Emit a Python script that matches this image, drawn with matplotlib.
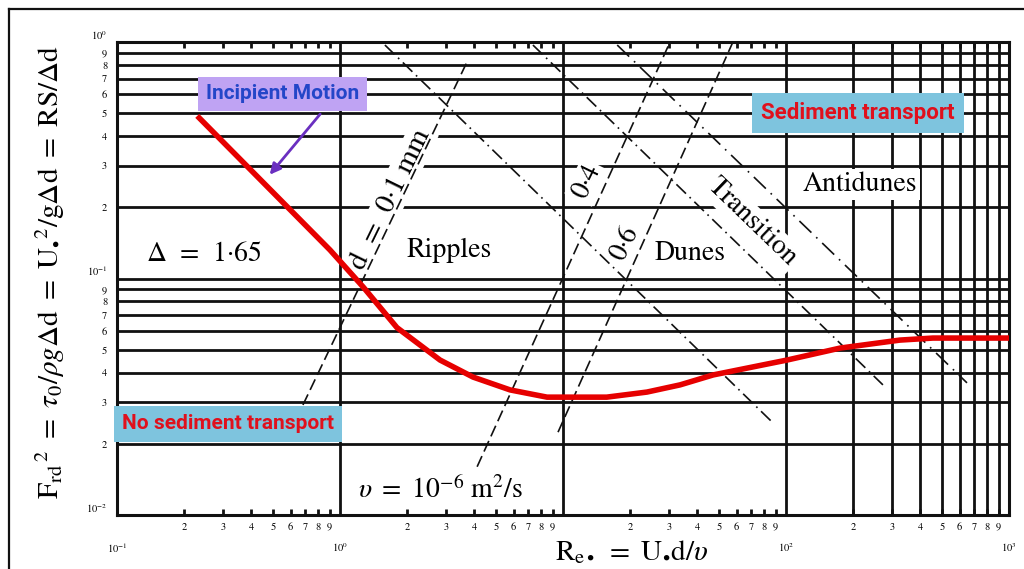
import matplotlib
matplotlib.use("Agg")
import matplotlib.pyplot as plt
from matplotlib.lines import Line2D

plt.rcParams['font.family'] = ['STIXGeneral', 'DejaVu Serif']
plt.rcParams['mathtext.fontset'] = 'stix'

# Threshold (incipient motion) curve: Re* vs Frd^2
curve_re = [0.229, 0.902, 1.27, 1.80, 2.81, 3.95, 5.79, 8.48, 15.7, 23.8,
            33.5, 47.1, 101, 175, 324, 456, 1000]
curve_fr = [0.487, 0.132, 0.0921, 0.062, 0.0452, 0.0383, 0.0338, 0.0315, 0.0315, 0.0331,
            0.0355, 0.0391, 0.0452, 0.0508, 0.0549, 0.0560, 0.0560]

# Constant grain-size lines (d = 0.1, 0.4, 0.6 mm), endpoints (Re*, Frd^2)
d01_re = [0.682, 3.71]
d01_fr = [0.0292, 0.823]
d04_re = [4.12, 30.2]
d04_fr = [0.0160, 1.0]
d06_re = [9.5, 57.8]
d06_fr = [0.0224, 1.0]

# Bedform regime boundaries
ripdune_re = [1.59, 87.5]
ripdune_fr = [0.971, 0.0245]
dunetrans_re = [7.33, 272]
dunetrans_fr = [0.971, 0.0355]
transanti_re = [17.5, 648]
transanti_fr = [0.971, 0.0362]

x_decades = [0.1, 1, 10, 100, 1000]
x_decade_labels = [r'$10^{-1}$', r'$10^{0}$', '', r'$10^{2}$', r'$10^{3}$']
y_decades = [0.01, 0.1, 1]
y_decade_labels = [r'$10^{-2}$', r'$10^{-1}$', r'$10^{0}$']
mantissas = [2, 3, 4, 5, 6, 7, 8, 9]

fig = plt.figure(figsize=(10.24, 5.69), dpi=100)
ax = fig.add_axes([117 / 1024, 1 - 515 / 569, 892 / 1024, 473 / 569])
ax.set_xscale('log')
ax.set_yscale('log')
ax.set_xlim(0.1, 1000)
ax.set_ylim(0.01, 1)

ink = '#111111'

# horizontal rules at every mantissa of both decades
y_minor = [m * d for d in y_decades[:-1] for m in mantissas]
for yv in y_minor + y_decades:
    ax.axhline(yv, color=ink, lw=2.0, zorder=1)
# vertical rules: decade lines plus the full last decade
x_minor = [m * d for d in x_decades[:-1] for m in mantissas]
for xv in [1, 10, 100] + [m * 100 for m in mantissas]:
    ax.axvline(xv, color=ink, lw=2.0, zorder=1)

for sp in ax.spines.values():
    sp.set_linewidth(2.2)
    sp.set_color(ink)
    sp.set_zorder(1)

ax.set_xticks(x_decades, x_decade_labels)
ax.set_xticks(x_minor, [str(m) for d in x_decades[:-1] for m in mantissas], minor=True)
ax.set_yticks(y_decades, y_decade_labels)
ax.set_yticks(y_minor, [str(m) for d in y_decades[:-1] for m in mantissas], minor=True)
ax.tick_params(axis='x', which='minor', direction='in', top=True, bottom=True,
               length=4, width=2, color=ink, pad=5, labelsize=7.5)
ax.tick_params(axis='x', which='major', length=0, pad=19, labelsize=7.5)
ax.tick_params(axis='y', which='both', length=0, pad=7, labelsize=7.5)
for lab in ax.get_yticklabels():
    lab.set_va('bottom')

# grain-size lines
for xs, ys in [(d01_re, d01_fr), (d04_re, d04_fr), (d06_re, d06_fr)]:
    ax.plot(xs, ys, color=ink, lw=1.2, ls=(0, (7, 3)), zorder=3)
# regime boundaries
ax.plot(ripdune_re, ripdune_fr, color=ink, lw=1.2, ls=(0, (8, 3, 1, 3)), zorder=3)
ax.plot(dunetrans_re, dunetrans_fr, color=ink, lw=1.2, ls=(0, (8, 3, 1, 3)), zorder=3)
ax.plot(transanti_re, transanti_fr, color=ink, lw=1.2, ls=(0, (10, 4, 1, 4)), zorder=3)

# threshold curve
ax.plot(curve_re, curve_fr, color='#e60000', lw=4.0, solid_capstyle='butt',
        solid_joinstyle='round', zorder=4)

white = dict(facecolor='white', edgecolor='none', pad=2)
fs = 20
ax.text(0.245, 0.126, r'$\mathit{\Delta}$  =  1·65', fontsize=fs, ha='center', va='center',
        zorder=2, bbox=white)
ax.text(3.08, 0.132, 'Ripples', fontsize=fs, ha='center', va='center', zorder=2, bbox=white)
ax.text(37.1, 0.128, 'Dunes', fontsize=fs, ha='center', va='center', zorder=2, bbox=white)
ax.text(215, 0.249, 'Antidunes', fontsize=fs, ha='center', va='center', zorder=2, bbox=white)
ax.text(1.68, 0.215, 'd  =  0·1 mm', fontsize=21, rotation=64, ha='center', va='center',
        rotation_mode='anchor', zorder=2, bbox=white)
ax.text(12.8, 0.256, '0·4', fontsize=fs, rotation=64, ha='center', va='center',
        rotation_mode='anchor', zorder=2, bbox=white)
ax.text(19.0, 0.141, '0·6', fontsize=fs, rotation=64, ha='center', va='center',
        rotation_mode='anchor', zorder=2, bbox=white)
ax.text(70.4, 0.173, 'Transition', fontsize=fs, rotation=-44, ha='center', va='center',
        rotation_mode='anchor', zorder=2, bbox=white)
ax.text(1.205, 0.01276, r'$\upsilon\ =\ 10^{-6}\ \mathrm{m^2/s}$', fontsize=fs,
        ha='left', va='center', zorder=2)

# callouts
callout_font = ['Roboto', 'DejaVu Sans']
ax.text(0.554, 0.603, 'Incipient Motion', fontsize=15, fontweight='bold',
        family=callout_font, color='#2346c8', ha='center', va='center', zorder=6,
        bbox=dict(boxstyle='square,pad=0.38', facecolor='#bfa3f3', edgecolor='none'))
ax.annotate('', xy=(0.475, 0.269), xytext=(0.830, 0.506), zorder=6,
            arrowprops=dict(arrowstyle='-|>', color='#6a2fc0', lw=2, mutation_scale=16))
ax.text(210, 0.501, 'Sediment transport', fontsize=16, fontweight='bold',
        family=callout_font, color='#e0101c', ha='center', va='center', zorder=6,
        bbox=dict(boxstyle='square,pad=0.42', facecolor='#7ec4de', edgecolor='none'))
ax.text(0.315, 0.0243, 'No sediment transport', fontsize=15, fontweight='bold',
        family=callout_font, color='#e0101c', ha='center', va='center', zorder=6,
        bbox=dict(boxstyle='square,pad=0.4', facecolor='#7ec4de', edgecolor='none'))

# axis titles
fig.text(50 / 1024, 1 - 272 / 569,
         r'$\mathrm{F_{rd}}^{\,2}\ =\ \tau_0/\rho g\Delta \mathrm{d}\ =\ \mathrm{U_{\bullet}}^{2}/\mathrm{g}\Delta \mathrm{d}\ =\ \mathrm{RS}/\Delta \mathrm{d}$',
         rotation=90, fontsize=21, ha='center', va='center')
fig.text(632 / 1024, 1 - 552 / 569,
         r'$\mathrm{R_{e\bullet}}\ =\ \mathrm{U_{\bullet}d}/\upsilon$',
         fontsize=21, ha='center', va='center')

# frame around the panel
fig.add_artist(Line2D([9 / 1024, 9 / 1024], [0, 1 - 9 / 569], color=ink, lw=1.6))
fig.add_artist(Line2D([9 / 1024, 1], [1 - 9 / 569, 1 - 9 / 569], color=ink, lw=1.6))

fig.savefig('out.png', dpi=100, facecolor='white')
